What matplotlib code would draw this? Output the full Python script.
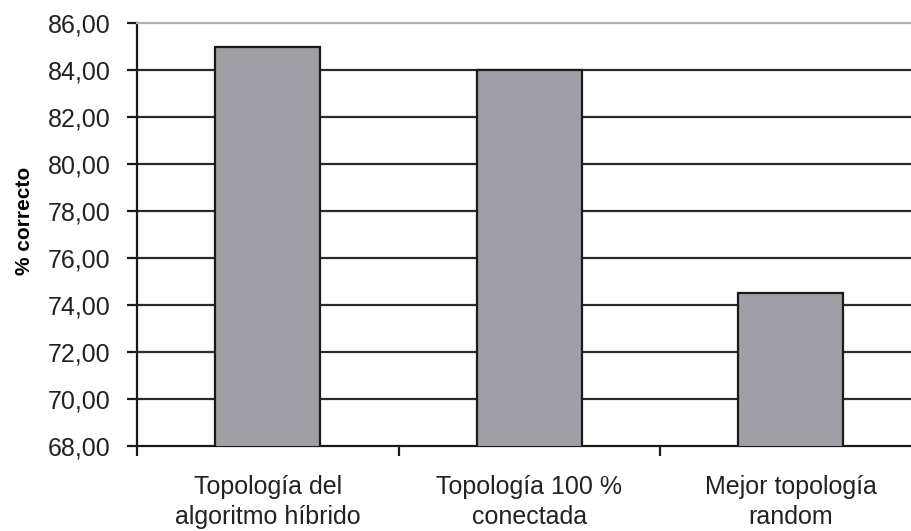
import matplotlib.pyplot as plt
from matplotlib.ticker import FuncFormatter, MultipleLocator

categories = ['Topología del\nalgoritmo híbrido', 'Topología 100 %\nconectada', 'Mejor topología\nrandom']
values = [85.0, 84.0, 74.5]
y_min, y_max, y_step = 68, 86, 2

plt.rcParams['font.family'] = ['Liberation Sans', 'DejaVu Sans']

fig = plt.figure(figsize=(9.12, 5.31), dpi=100)
# plot area runs a bit past the right edge of the picture, like the source
ax = fig.add_axes([137 / 912, 85 / 531, (921.5 - 137) / 912, 423 / 531])

x = list(range(len(categories)))
ax.bar(x, values, width=0.4, bottom=0, color='#a09fa5', edgecolor='#1a1a1a',
       linewidth=1.6, zorder=3)

ax.set_xlim(-0.5, len(categories) - 0.5)
ax.set_ylim(y_min, y_max)
ax.yaxis.set_major_locator(MultipleLocator(y_step))
ax.yaxis.set_major_formatter(FuncFormatter(lambda v, p: f'{v:.2f}'.replace('.', ',')))

for v in range(y_min + y_step, y_max, y_step):
    ax.axhline(v, color='#2a2a2a', linewidth=1.6, zorder=1)

ax.set_xticks(x)
ax.set_xticklabels(categories, fontsize=18, color='#222222', linespacing=1.3)
ax.tick_params(axis='x', which='major', length=0, pad=21)
ax.set_xticks([i - 0.5 for i in range(len(categories) + 1)], minor=True)
ax.tick_params(axis='x', which='minor', length=7, width=1.6, color='#1a1a1a', direction='out')

ax.tick_params(axis='y', length=7, width=1.6, color='#1a1a1a', labelsize=18,
               labelcolor='#222222', pad=12)

ax.set_ylabel('% correcto', fontsize=15, fontweight='bold')
ax.yaxis.set_label_coords(-0.131, 0.532)

for side in ['left', 'bottom']:
    ax.spines[side].set_color('#1a1a1a')
    ax.spines[side].set_linewidth(1.6)
ax.spines['top'].set_color('#b0b0b0')
ax.spines['top'].set_linewidth(1.6)
ax.spines['right'].set_visible(False)

fig.savefig('out.png', dpi=100)
